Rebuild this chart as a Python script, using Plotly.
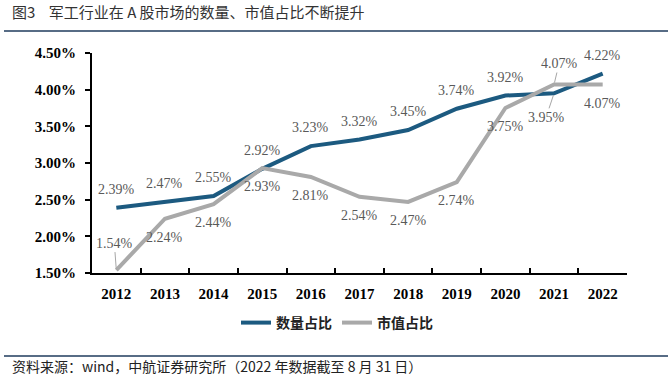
import plotly.graph_objects as go

years = ["2012", "2013", "2014", "2015", "2016", "2017", "2018", "2019", "2020", "2021", "2022"]
count_share = [2.39, 2.47, 2.55, 2.92, 3.23, 3.32, 3.45, 3.74, 3.92, 3.95, 4.22]
mcap_share = [1.54, 2.24, 2.44, 2.93, 2.81, 2.54, 2.47, 2.74, 3.75, 4.07, 4.07]
series_names = ["数量占比", "市值占比"]
y_ticks = [1.5, 2.0, 2.5, 3.0, 3.5, 4.0, 4.5]

title_text = "图3    军工行业在 A 股市场的数量、市值占比不断提升"
source_text = "资料来源：wind，中航证券研究所（2022 年数据截至 8 月 31 日）"

BLUE = "#1C5A80"
GRAY = "#A9A9A9"
LABEL = "#595959"
SERIF = "Liberation Serif, Times New Roman, serif"
CJK = "Noto Sans CJK SC"

W, H = 671, 376
ML, MR, MT, MB = 92, 44, 53, 103
PW = W - ML - MR
PH = H - MT - MB


def px_to_paper_x(px):
    return (px - ML) / PW


def px_to_paper_y(py):
    return (H - MB - py) / PH


fig = go.Figure()
fig.add_trace(go.Scatter(x=years, y=count_share, mode="lines", name=series_names[0],
                         line=dict(color=BLUE, width=4)))
fig.add_trace(go.Scatter(x=years, y=mcap_share, mode="lines", name=series_names[1],
                         line=dict(color=GRAY, width=4)))

# data labels: default blue above, gray below; some with leader lines
special = {
    (0, "2021"): dict(ax=-8, ay=24),
    (1, "2012"): dict(ax=-2, ay=-27),
    (1, "2021"): dict(ax=5, ay=-21),
}
annotations = []
for si, vals in enumerate([count_share, mcap_share]):
    for i, (yr, v) in enumerate(zip(years, vals)):
        txt = f"{v:.2f}%"
        key = (si, yr)
        base = dict(x=i, y=v, xref="x", yref="y", text=txt,
                    font=dict(family=SERIF, size=14, color=LABEL))
        if key in special:
            base.update(showarrow=True, arrowhead=0, arrowwidth=1, arrowcolor="#A6A6A6",
                        standoff=2, **special[key])
        else:
            base.update(showarrow=False, yshift=18.5 if si == 0 else -18.5)
        annotations.append(base)

annotations.append(dict(text=source_text, xref="paper", yref="paper",
                        x=px_to_paper_x(10), y=px_to_paper_y(366), xanchor="left", yanchor="middle",
                        showarrow=False, font=dict(family=CJK, size=14, color="#222")))

shapes = [
    dict(type="line", xref="paper", yref="paper", x0=px_to_paper_x(4), x1=px_to_paper_x(668),
         y0=px_to_paper_y(31), y1=px_to_paper_y(31), line=dict(color="#1F3B5C", width=1.5)),
    dict(type="line", xref="paper", yref="paper", x0=px_to_paper_x(4), x1=px_to_paper_x(668),
         y0=px_to_paper_y(356), y1=px_to_paper_y(356), line=dict(color="#1F3B5C", width=1.5)),
]

fig.update_layout(
    width=W, height=H,
    margin=dict(l=ML, r=MR, t=MT, b=MB),
    paper_bgcolor="white", plot_bgcolor="white",
    title=dict(text=title_text, xref="container", yref="container", x=12 / W, xanchor="left",
               y=1 - 13 / H, yanchor="middle", font=dict(family=CJK, size=15, color="#333")),
    showlegend=True,
    legend=dict(orientation="h", x=px_to_paper_x(337), xanchor="center", y=px_to_paper_y(323),
                yanchor="middle",
                font=dict(family=CJK, size=14, color="#222", weight="bold"),
                itemwidth=30, tracegroupgap=0),
    annotations=annotations,
    shapes=shapes,
    xaxis=dict(type="category", range=[-0.5, 10.5], showgrid=False, showline=True, linecolor="black",
               linewidth=2, ticks="inside", tickson="boundaries", ticklen=5, tickwidth=2, tickcolor="black",
               tickfont=dict(family=SERIF, size=15, color="black", weight="bold"), ticklabelstandoff=6,
               zeroline=False),
    yaxis=dict(range=[1.5, 4.5], tickvals=y_ticks, ticktext=[f"{t:.2f}%" for t in y_ticks],
               showgrid=False, showline=True, linecolor="black", linewidth=2, ticks="outside",
               ticklen=5, tickwidth=2, tickcolor="black", zeroline=False,
               tickfont=dict(family=SERIF, size=15, color="black", weight="bold"), ticklabelstandoff=6),
)

fig.write_html("out.html", config={"displayModeBar": False},
               post_script="document.body.style.margin='0';document.body.style.overflow='hidden';")
